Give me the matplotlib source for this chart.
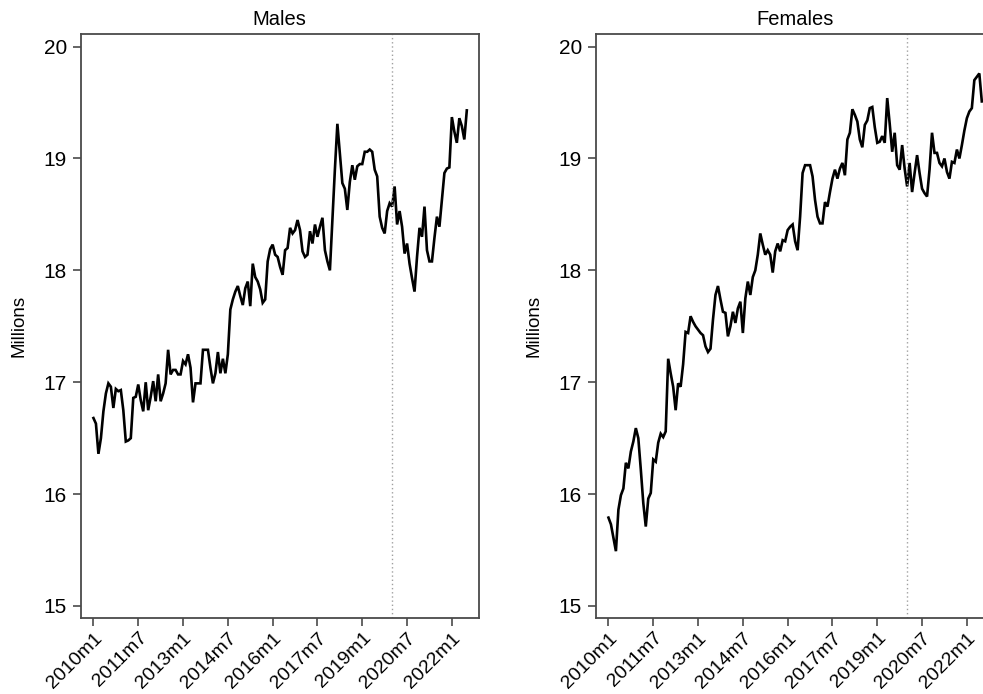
import matplotlib
matplotlib.use("Agg")
import matplotlib.pyplot as plt
import numpy as np

plt.rcParams['font.family'] = ['Liberation Sans', 'DejaVu Sans']

# Monthly data 2010m1 .. 2022m7 (millions)
males = [16.68, 16.63, 16.36, 16.50, 16.74, 16.90, 16.99, 16.96, 16.77, 16.94,
         16.92, 16.93, 16.75, 16.47, 16.48, 16.50, 16.86, 16.87, 16.98, 16.84,
         16.74, 17.00, 16.75, 16.87, 17.01, 16.83, 17.07, 16.83, 16.90, 16.99,
         17.29, 17.07, 17.11, 17.11, 17.07, 17.07, 17.19, 17.16, 17.25, 17.13,
         16.82, 16.99, 16.99, 16.99, 17.29, 17.29, 17.29, 17.13, 16.99, 17.08,
         17.27, 17.08, 17.21, 17.08, 17.25, 17.65, 17.74, 17.81, 17.86, 17.77,
         17.69, 17.84, 17.90, 17.68, 18.06, 17.94, 17.90, 17.83, 17.71, 17.74,
         18.08, 18.19, 18.23, 18.14, 18.12, 18.03, 17.96, 18.18, 18.20, 18.38,
         18.33, 18.36, 18.45, 18.36, 18.17, 18.12, 18.14, 18.35, 18.24, 18.41,
         18.30, 18.39, 18.47, 18.18, 18.08, 18.00, 18.45, 18.90, 19.31, 19.05,
         18.78, 18.73, 18.54, 18.79, 18.94, 18.81, 18.93, 18.95, 18.95, 19.06,
         19.06, 19.08, 19.06, 18.90, 18.84, 18.48, 18.38, 18.33, 18.53, 18.60,
         18.57, 18.75, 18.41, 18.53, 18.39, 18.15, 18.24, 18.06, 17.93, 17.81,
         18.12, 18.38, 18.30, 18.57, 18.18, 18.08, 18.08, 18.29, 18.48, 18.39,
         18.63, 18.87, 18.91, 18.92, 19.37, 19.24, 19.14, 19.36, 19.29, 19.17,
         19.43]

females = [15.79, 15.73, 15.61, 15.49, 15.86, 15.99, 16.05, 16.28, 16.23, 16.38,
           16.47, 16.59, 16.50, 16.22, 15.92, 15.71, 15.96, 16.01, 16.31, 16.29,
           16.46, 16.54, 16.51, 16.56, 17.21, 17.08, 16.96, 16.75, 16.99, 16.96,
           17.16, 17.45, 17.44, 17.59, 17.54, 17.50, 17.47, 17.44, 17.42, 17.32,
           17.27, 17.30, 17.56, 17.78, 17.86, 17.74, 17.63, 17.62, 17.41, 17.50,
           17.63, 17.53, 17.66, 17.72, 17.44, 17.75, 17.90, 17.78, 17.94, 18.00,
           18.14, 18.33, 18.23, 18.14, 18.18, 18.14, 17.98, 18.17, 18.24, 18.17,
           18.27, 18.26, 18.36, 18.39, 18.41, 18.26, 18.18, 18.48, 18.87, 18.94,
           18.94, 18.94, 18.84, 18.63, 18.48, 18.42, 18.42, 18.61, 18.57, 18.70,
           18.82, 18.90, 18.82, 18.91, 18.96, 18.85, 19.17, 19.23, 19.44, 19.39,
           19.33, 19.17, 19.10, 19.30, 19.34, 19.45, 19.46, 19.28, 19.14, 19.15,
           19.20, 19.14, 19.54, 19.31, 19.06, 19.23, 18.94, 18.90, 19.12, 18.91,
           18.75, 18.96, 18.70, 18.87, 19.03, 18.87, 18.73, 18.69, 18.66, 18.90,
           19.23, 19.05, 19.05, 18.96, 18.93, 19.00, 18.88, 18.82, 18.97, 18.96,
           19.08, 19.00, 19.12, 19.25, 19.36, 19.42, 19.45, 19.70, 19.73, 19.76,
           19.51]

month_index = np.arange(len(males))
xtick_pos = [0, 18, 36, 54, 72, 90, 108, 126, 144]
xtick_labels = ['2010m1', '2011m7', '2013m1', '2014m7', '2016m1',
                '2017m7', '2019m1', '2020m7', '2022m1']
yticks = [15, 16, 17, 18, 19, 20]
covid_month = 120  # 2020m1
panels = [('Males', males), ('Females', females)]

W, H = 983, 694
fig = plt.figure(figsize=(W / 100, H / 100), dpi=100)
fig.patch.set_facecolor('white')

bottom = 1 - 618.3 / H
height = (618.3 - 34.3) / H
lefts = [81, 596]
width_px = 397.5

frame_col = '#4a4a4a'
for (title, data), lpx in zip(panels, lefts):
    ax = fig.add_axes([lpx / W, bottom, width_px / W, height])
    ax.plot(month_index, data, color='black', lw=1.9, solid_joinstyle='miter')
    ax.axvline(covid_month, color='#a0a0a0', lw=1.0, ls=(0, (1, 2)))
    ax.set_xlim(-5, 154.7)
    ax.set_ylim(14.89, 20.11)
    ax.set_xticks(xtick_pos)
    ax.set_xticklabels(xtick_labels, rotation=45, ha='right',
                       rotation_mode='anchor', fontsize=14)
    ax.set_yticks(yticks)
    ax.set_yticklabels([str(v) for v in yticks], fontsize=15)
    ax.tick_params(axis='both', direction='out', length=6, width=1.2,
                   color=frame_col, pad=4)
    ax.tick_params(axis='x', pad=2)
    for sp in ax.spines.values():
        sp.set_color(frame_col)
        sp.set_linewidth(1.3)
    ax.set_title(title, fontsize=14.5, pad=7)
    ax.set_ylabel('Millions', fontsize=13.5, labelpad=12)

fig.savefig('out.png', dpi=100)
